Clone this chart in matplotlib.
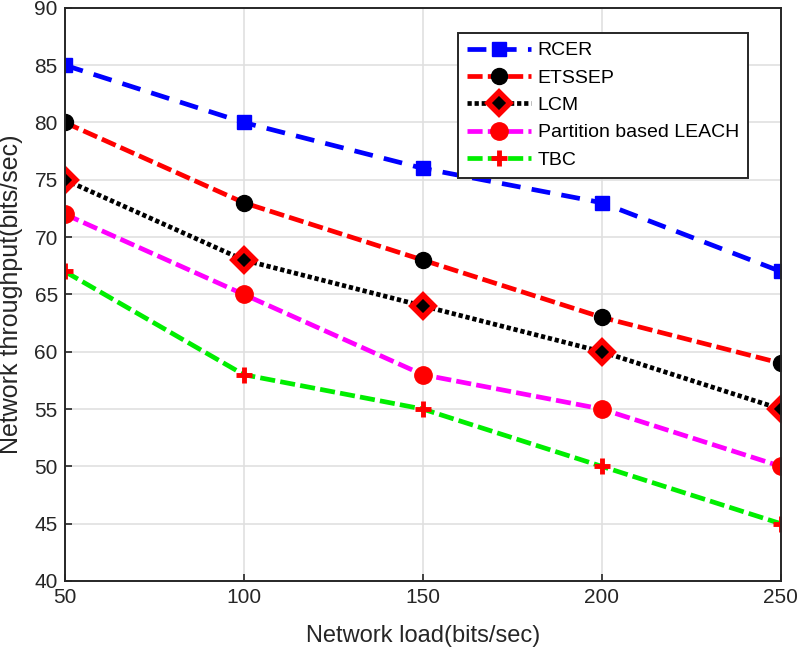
import matplotlib.pyplot as plt

plt.rcParams["font.family"] = ["Liberation Sans", "DejaVu Sans"]

load = [50, 100, 150, 200, 250]
rcer = [85, 80, 76, 73, 67]
etssep = [80, 73, 68, 63, 59]
lcm = [75, 68, 64, 60, 55]
partition_leach = [72, 65, 58, 55, 50]
tbc = [67, 58, 55, 50, 45]

fig = plt.figure(figsize=(8, 6.55), dpi=100)
ax = fig.add_axes([0.081, 0.113, 0.895, 0.875])

lw = 3.4
dash = (0, (3.2, 1.1))
ax.plot(load, rcer, color="blue", linestyle=(0, (4, 2.4)), lw=lw,
        marker="s", ms=10, mfc="blue", mec="blue", label="RCER")
ax.plot(load, etssep, color="red", linestyle=dash, lw=lw,
        marker="o", ms=11.5, mfc="black", mec="black", label="ETSSEP")
ax.plot(load, lcm, color="black", linestyle=(0, (0.9, 0.6)), lw=lw,
        marker="D", ms=11.5, mfc="black", mec="red", mew=4, label="LCM")
ax.plot(load, partition_leach, color="magenta", linestyle=dash, lw=lw,
        marker="o", ms=12.5, mfc="red", mec="red", label="Partition based LEACH")
ax.plot(load, tbc, color="#00ee00", linestyle=dash, lw=lw,
        marker="+", ms=12, mec="red", mew=3.5, label="TBC")

ax.set_xlim(50, 250)
ax.set_ylim(40, 90)
ax.set_xticks(load)
ax.set_yticks(range(40, 91, 5))
ax.grid(True, color="#e0e0e0", lw=1.2)
ax.set_axisbelow(True)
ax.tick_params(direction="in", labelsize=15, length=5, width=1.2,
               colors="#262626", pad=5)
for s in ax.spines.values():
    s.set_linewidth(1.4)
    s.set_color("#262626")

ax.set_xlabel("Network load(bits/sec)", fontsize=17, color="#262626", labelpad=13)
ax.set_ylabel("Network throughput(bits/sec)", fontsize=18, color="#262626")
ax.yaxis.set_label_coords(-0.058, 0.5)

leg = ax.legend(loc="upper right", bbox_to_anchor=(0.954, 0.956), borderaxespad=0,
                fontsize=14, fancybox=False, edgecolor="#262626", framealpha=1,
                handlelength=3.3, handletextpad=0.35, borderpad=0.45,
                labelspacing=0.5)
leg.get_frame().set_linewidth(1.4)

fig.savefig("out.png", dpi=100)
